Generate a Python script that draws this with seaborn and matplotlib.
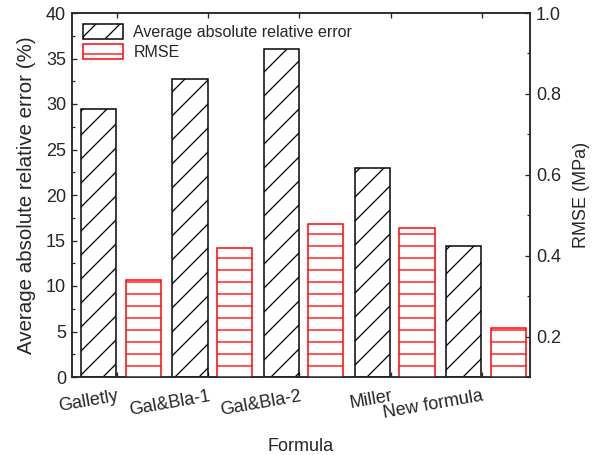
import numpy as np
import pandas as pd
import matplotlib
matplotlib.use("Agg")
import matplotlib.pyplot as plt
from matplotlib.ticker import MultipleLocator, FixedLocator, FormatStrFormatter
from matplotlib.patches import Patch
import seaborn as sns

formulas = ["Galletly", "Gal&Bla-1", "Gal&Bla-2", "Miller", "New formula"]
aare = [29.4, 32.7, 36.0, 23.0, 14.4]
rmse = [0.339, 0.419, 0.479, 0.468, 0.222]

sns.set_style("ticks")
plt.rcParams["font.family"] = ["Liberation Sans", "DejaVu Sans"]
plt.rcParams["hatch.linewidth"] = 1.3

DPI = 72
fig = plt.figure(figsize=(597 / DPI, 455 / DPI), dpi=DPI)
ax = fig.add_axes([72 / 597, 1 - 377 / 455, 458 / 597, 364 / 455])
ax2 = ax.twinx()

idx = np.arange(len(formulas))
df = pd.DataFrame({"pos_a": idx - 0.2, "pos_r": idx + 0.29, "aare": aare, "rmse": rmse})

sns.barplot(data=df, x="pos_a", y="aare", native_scale=True, width=0.385,
            color="white", edgecolor="black", linewidth=1.5, hatch="/",
            errorbar=None, ax=ax)
sns.barplot(data=df, x="pos_r", y="rmse", native_scale=True, width=0.385,
            color="white", edgecolor="red", linewidth=1.5, hatch="-",
            errorbar=None, ax=ax2)

for a in (ax, ax2):
    a.set_xlim(-0.495, 4.53)
ax.set_ylim(0, 40)
ax2.set_ylim(0.1, 1.0)

ax.yaxis.set_major_locator(MultipleLocator(5))
ax.yaxis.set_minor_locator(MultipleLocator(2.5))
ax2.yaxis.set_major_locator(FixedLocator([0.2, 0.4, 0.6, 0.8, 1.0]))
ax2.yaxis.set_minor_locator(MultipleLocator(0.1))
ax2.yaxis.set_major_formatter(FormatStrFormatter("%.1f"))

ax.set_xticks(idx)
ax.set_xticklabels(formulas, rotation=10, ha="right", rotation_mode="anchor")
ax2.set_xticks(idx)

fs = 18
ax.tick_params(axis="both", which="major", direction="in", length=5, width=1.3,
               labelsize=fs, top=True, pad=6)
ax.tick_params(axis="y", which="minor", direction="in", length=3, width=1.2)
ax.tick_params(axis="x", which="major", pad=11)
ax2.tick_params(axis="y", which="major", direction="in", length=5, width=1.3,
                labelsize=fs, pad=6)
ax2.tick_params(axis="y", which="minor", direction="in", length=3, width=1.2)

for a in (ax, ax2):
    for s in a.spines.values():
        s.set_linewidth(1.5)
        s.set_visible(True)

ax.set_xlabel("Formula", fontsize=fs, labelpad=16)
ax.set_ylabel("Average absolute relative error (%)", fontsize=20.5, labelpad=10)
ax2.set_ylabel("RMSE (MPa)", fontsize=fs, labelpad=12)

handles = [
    Patch(facecolor="white", edgecolor="black", hatch="/", linewidth=1.5,
          label="Average absolute relative error"),
    Patch(facecolor="white", edgecolor="red", hatch="-", linewidth=1.5, label="RMSE"),
]
ax2.legend(handles=handles, loc="upper left", bbox_to_anchor=(0.0, 1.0),
           frameon=False, fontsize=16, handlelength=2.5, handleheight=1.06,
           handletextpad=0.63, labelspacing=0.25, borderpad=0.4, borderaxespad=0.3)

fig.savefig("out.png", dpi=DPI)
